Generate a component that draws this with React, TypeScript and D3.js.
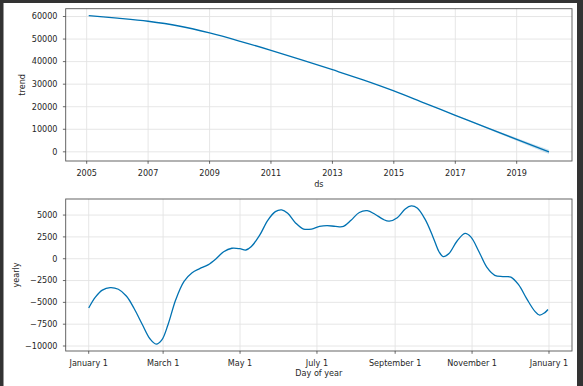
import React from "react";
import * as d3 from "d3";

// ---- Trend panel data ----
const trendDates = [
  "2005-01-25", "2006-01-01", "2007-01-01", "2008-01-01", "2009-01-01", "2010-01-01",
  "2011-01-01", "2012-01-01", "2013-01-01", "2014-01-01", "2015-01-01", "2016-01-01",
  "2017-01-01", "2018-01-01", "2019-01-01", "2020-01-20",
];
const trendValues = [60400, 59300, 57900, 55800, 52700, 49000, 45000, 40800, 36400, 31900, 27000, 21600, 16200, 10800, 5500, 0];
const trendLower = [60400, 59300, 57900, 55800, 52700, 49000, 45000, 40800, 36400, 31900, 26950, 21500, 16000, 10450, 4900, -1000];
const trendUpper = [60400, 59300, 57900, 55800, 52700, 49000, 45000, 40800, 36400, 31900, 27050, 21700, 16400, 11150, 6100, 900];
const trendYTicks = [0, 10000, 20000, 30000, 40000, 50000, 60000];
const trendXTickYears = [2005, 2007, 2009, 2011, 2013, 2015, 2017, 2019];

// ---- Yearly panel data (day of year -> value) ----
const yearlyDays = [
  0, 5.3, 10.8, 17, 23.5, 30, 36, 42.4, 48.7, 53.5, 58, 63, 69, 75.6, 82, 88, 94.6, 101, 107, 113.5,
  119.8, 124.6, 129, 135.6, 142, 148, 153, 157.8, 164, 170.4, 176.7, 183, 189, 195.7, 202, 208,
  214.6, 220.9, 227, 233.6, 238.3, 244.7, 251, 255.8, 260.5, 266.8, 273, 277.8, 281, 285.7, 292,
  298.4, 303, 309.5, 315.8, 322, 328.4, 334.8, 341, 347.4, 353.7, 357.6, 361.5, 364.2,
];
const yearlyValues = [
  -5640, -4400, -3600, -3310, -3500, -4300, -5700, -7500, -9200, -9780, -9300, -7500, -4700, -2600,
  -1600, -1140, -700, 0, 800, 1200, 1150, 1000, 1400, 2700, 4400, 5400, 5600, 5200, 4100, 3400,
  3400, 3700, 3800, 3700, 3700, 4400, 5300, 5500, 5100, 4500, 4300, 4700, 5700, 6050, 5800, 4500,
  2500, 800, 250, 600, 2000, 2900, 2500, 800, -1000, -1900, -2050, -2100, -3000, -4600, -6000,
  -6450, -6200, -5820,
];
const yearlyYTicks = [-10000, -7500, -5000, -2500, 0, 2500, 5000];
const yearlyXTickDays = [0, 59, 120, 181, 243, 304, 365];
const yearlyXTickLabels = ["January 1", "March 1", "May 1", "July 1", "September 1", "November 1", "January 1"];

const W = 583;
const H = 386;
const FONT = "DejaVu Sans";
const FS = 8.1;
const LINE = "#0072B2";
const GRID = "#e3e3e3";

const AX_L = 65.7;
const AX_R = 572;
const TOP = { y0: 8.7, y1: 161 };
const BOT = { y0: 199, y1: 351 };

function pad(lo: number, hi: number): [number, number] {
  const p = (hi - lo) * 0.05;
  return [lo - p, hi + p];
}

const fmt = d3.format("d");

export default function App() {
  const parse = d3.timeParse("%Y-%m-%d");
  const tDates = trendDates.map((s) => parse(s) as Date);
  const t0 = +tDates[0];
  const t1 = +tDates[tDates.length - 1];
  const [tx0, tx1] = pad(t0, t1);
  const xT = d3.scaleTime().domain([new Date(tx0), new Date(tx1)]).range([AX_L, AX_R]);
  const [ty0, ty1] = pad(d3.min(trendLower) as number, d3.max(trendUpper) as number);
  const yT = d3.scaleLinear().domain([ty0, ty1]).range([TOP.y1, TOP.y0]);

  const trendLine = d3
    .line<number>()
    .x((_, i) => xT(tDates[i]))
    .y((d) => yT(d))
    .curve(d3.curveMonotoneX)(trendValues) as string;
  const trendArea = d3
    .area<number>()
    .x((_, i) => xT(tDates[i]))
    .y0((_, i) => yT(trendLower[i]))
    .y1((_, i) => yT(trendUpper[i]))
    .curve(d3.curveMonotoneX)(trendValues) as string;

  const [yx0, yx1] = pad(0, 365);
  const xY = d3.scaleLinear().domain([yx0, yx1]).range([AX_L, AX_R]);
  const [yy0, yy1] = pad(d3.min(yearlyValues) as number, d3.max(yearlyValues) as number);
  const yY = d3.scaleLinear().domain([yy0, yy1]).range([BOT.y1, BOT.y0]);
  const yearlyLine = d3
    .line<number>()
    .x((_, i) => xY(yearlyDays[i]))
    .y((d) => yY(d))
    .curve(d3.curveCatmullRom.alpha(0.5))(yearlyValues) as string;

  const trendXTicks = trendXTickYears.map((y) => new Date(y, 0, 1));

  const tickLen = 2.8;
  const textStyle: React.CSSProperties = { fontFamily: FONT, fontSize: FS, fill: "#262626" };

  return (
    <svg
      width={W}
      height={H}
      style={{ position: "fixed", left: 0, top: 0, background: "#fff" }}
      viewBox={`0 0 ${W} ${H}`}
    >
      <rect x={0} y={0} width={W} height={H} fill="#fff" />
      {/* dark frame */}
      <rect x={0} y={0} width={W} height={3} fill="#333" />
      <rect x={0} y={0} width={3.5} height={H} fill="#333" />
      <rect x={577} y={0} width={W - 577} height={H} fill="#333" />

      {/* ---------- TOP: trend ---------- */}
      <g>
        {trendYTicks.map((v) => (
          <line key={"tg" + v} x1={AX_L} x2={AX_R} y1={yT(v)} y2={yT(v)} stroke={GRID} strokeWidth={0.9} />
        ))}
        {trendXTicks.map((d, i) => (
          <line key={"txg" + i} x1={xT(d)} x2={xT(d)} y1={TOP.y0} y2={TOP.y1} stroke={GRID} strokeWidth={0.9} />
        ))}
        <path d={trendArea} fill={LINE} fillOpacity={0.2} stroke="none" />
        <path d={trendLine} fill="none" stroke={LINE} strokeWidth={1.3} />
        <rect x={AX_L} y={TOP.y0} width={AX_R - AX_L} height={TOP.y1 - TOP.y0} fill="none" stroke="#555" strokeWidth={0.9} />
        {trendYTicks.map((v) => (
          <g key={"tyt" + v}>
            <line x1={AX_L - tickLen} x2={AX_L} y1={yT(v)} y2={yT(v)} stroke="#444" strokeWidth={0.8} />
            <text x={57.5} y={yT(v)} dy="0.35em" textAnchor="end" style={textStyle}>
              {fmt(v)}
            </text>
          </g>
        ))}
        {trendXTicks.map((d, i) => (
          <g key={"txt" + i}>
            <line x1={xT(d)} x2={xT(d)} y1={TOP.y1} y2={TOP.y1 + tickLen} stroke="#444" strokeWidth={0.8} />
            <text x={xT(d)} y={TOP.y1 + 14.7} textAnchor="middle" style={textStyle}>
              {trendXTickYears[i]}
            </text>
          </g>
        ))}
        <text x={(AX_L + AX_R) / 2} y={TOP.y1 + 25.8} textAnchor="middle" style={textStyle}>
          ds
        </text>
        <text
          transform={`translate(21.7, ${(TOP.y0 + TOP.y1) / 2}) rotate(-90)`}
          textAnchor="middle"
          dominantBaseline="central"
          style={textStyle}
        >
          trend
        </text>
      </g>

      {/* ---------- BOTTOM: yearly ---------- */}
      <g>
        {yearlyYTicks.map((v) => (
          <line key={"yg" + v} x1={AX_L} x2={AX_R} y1={yY(v)} y2={yY(v)} stroke={GRID} strokeWidth={0.9} />
        ))}
        {yearlyXTickDays.map((d, i) => (
          <line key={"yxg" + i} x1={xY(d)} x2={xY(d)} y1={BOT.y0} y2={BOT.y1} stroke={GRID} strokeWidth={0.9} />
        ))}
        <path d={yearlyLine} fill="none" stroke={LINE} strokeWidth={1.3} />
        <rect x={AX_L} y={BOT.y0} width={AX_R - AX_L} height={BOT.y1 - BOT.y0} fill="none" stroke="#555" strokeWidth={0.9} />
        {yearlyYTicks.map((v) => (
          <g key={"yyt" + v}>
            <line x1={AX_L - tickLen} x2={AX_L} y1={yY(v)} y2={yY(v)} stroke="#444" strokeWidth={0.8} />
            <text x={57.5} y={yY(v)} dy="0.35em" textAnchor="end" style={textStyle}>
              {d3.format("d")(v)}
            </text>
          </g>
        ))}
        {yearlyXTickDays.map((d, i) => (
          <g key={"yxt" + i}>
            <line x1={xY(d)} x2={xY(d)} y1={BOT.y1} y2={BOT.y1 + tickLen} stroke="#444" strokeWidth={0.8} />
            <text x={xY(d)} y={BOT.y1 + 14.7} textAnchor="middle" style={textStyle}>
              {yearlyXTickLabels[i]}
            </text>
          </g>
        ))}
        <text x={(AX_L + AX_R) / 2} y={BOT.y1 + 25.3} textAnchor="middle" style={textStyle}>
          Day of year
        </text>
        <text
          transform={`translate(15.5, ${(BOT.y0 + BOT.y1) / 2}) rotate(-90)`}
          textAnchor="middle"
          dominantBaseline="central"
          style={textStyle}
        >
          yearly
        </text>
      </g>
    </svg>
  );
}
